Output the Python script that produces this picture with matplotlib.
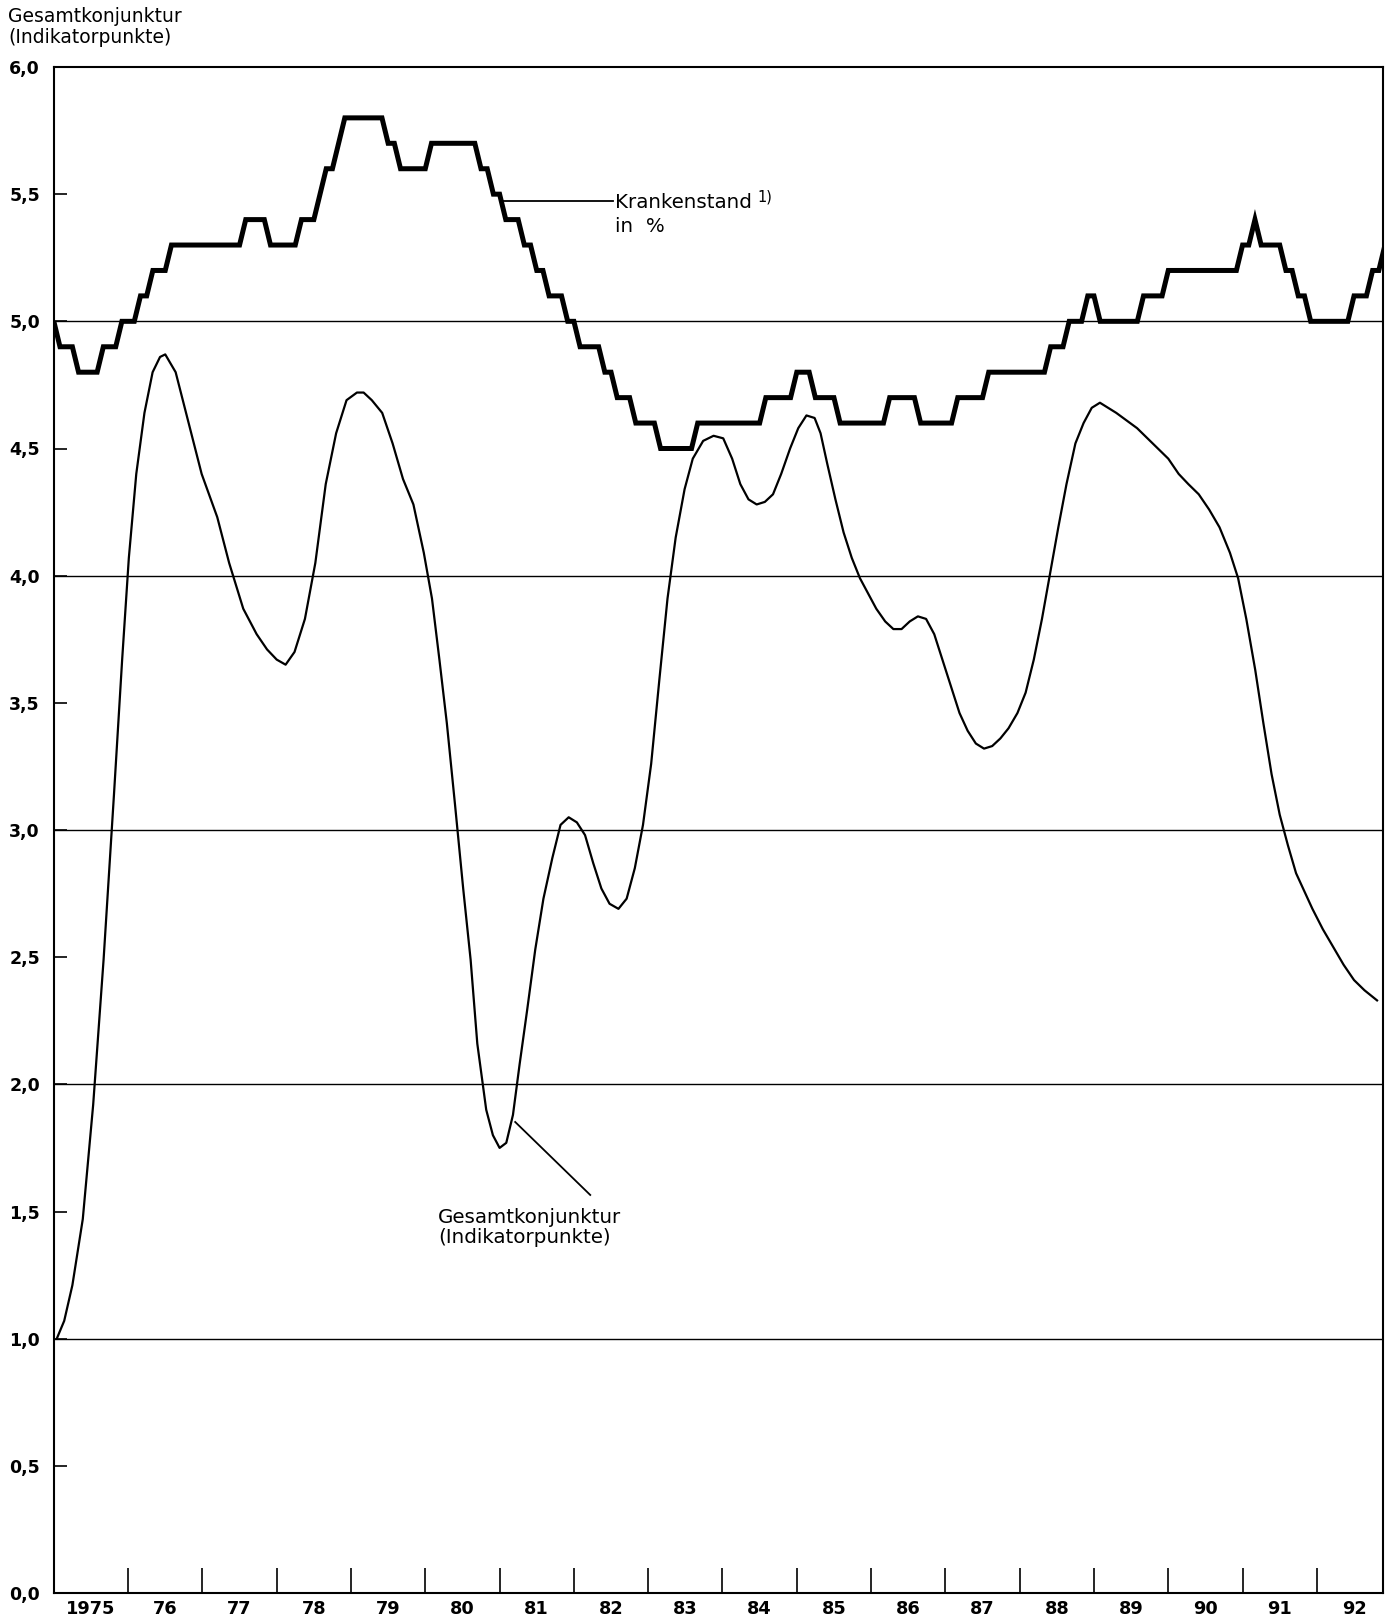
import numpy as np
import matplotlib
matplotlib.use("Agg")
import matplotlib.pyplot as plt

plt.rcParams['font.family'] = ['DejaVu Sans']

# ---------------- data ----------------
year_labels = ['1975', '76', '77', '78', '79', '80', '81', '82', '83', '84',
               '85', '86', '87', '88', '89', '90', '91', '92']
year_start = 1975
y_tick_values = [0.0, 0.5, 1.0, 1.5, 2.0, 2.5, 3.0, 3.5, 4.0, 4.5, 5.0, 5.5, 6.0]
grid_levels = [1.0, 2.0, 3.0, 4.0, 5.0]

# Krankenstand in % (monthly values)
kr_1975 = [5.0, 4.9, 4.9, 4.9, 4.8, 4.8, 4.8, 4.8, 4.9, 4.9, 4.9, 5.0]
kr_1976 = [5.0, 5.0, 5.1, 5.1, 5.2, 5.2, 5.2, 5.3, 5.3, 5.3, 5.3, 5.3]
kr_1977 = [5.3, 5.3, 5.3, 5.3, 5.3, 5.3, 5.3, 5.4, 5.4, 5.4, 5.4, 5.3]
kr_1978 = [5.3, 5.3, 5.3, 5.3, 5.4, 5.4, 5.4, 5.5, 5.6, 5.6, 5.7, 5.8]
kr_1979 = [5.8, 5.8, 5.8, 5.8, 5.8, 5.8, 5.7, 5.7, 5.6, 5.6, 5.6, 5.6]
kr_1980 = [5.6, 5.7, 5.7, 5.7, 5.7, 5.7, 5.7, 5.7, 5.7, 5.6, 5.6, 5.5]
kr_1981 = [5.5, 5.4, 5.4, 5.4, 5.3, 5.3, 5.2, 5.2, 5.1, 5.1, 5.1, 5.0]
kr_1982 = [5.0, 4.9, 4.9, 4.9, 4.9, 4.8, 4.8, 4.7, 4.7, 4.7, 4.6, 4.6]
kr_1983 = [4.6, 4.6, 4.5, 4.5, 4.5, 4.5, 4.5, 4.5, 4.6, 4.6, 4.6, 4.6]
kr_1984 = [4.6, 4.6, 4.6, 4.6, 4.6, 4.6, 4.6, 4.7, 4.7, 4.7, 4.7, 4.7]
kr_1985 = [4.8, 4.8, 4.8, 4.7, 4.7, 4.7, 4.7, 4.6, 4.6, 4.6, 4.6, 4.6]
kr_1986 = [4.6, 4.6, 4.6, 4.7, 4.7, 4.7, 4.7, 4.7, 4.6, 4.6, 4.6, 4.6]
kr_1987 = [4.6, 4.6, 4.7, 4.7, 4.7, 4.7, 4.7, 4.8, 4.8, 4.8, 4.8, 4.8]
kr_1988 = [4.8, 4.8, 4.8, 4.8, 4.8, 4.9, 4.9, 4.9, 5.0, 5.0, 5.0, 5.1]
kr_1989 = [5.1, 5.0, 5.0, 5.0, 5.0, 5.0, 5.0, 5.0, 5.1, 5.1, 5.1, 5.1]
kr_1990 = [5.2, 5.2, 5.2, 5.2, 5.2, 5.2, 5.2, 5.2, 5.2, 5.2, 5.2, 5.2]
kr_1991 = [5.3, 5.3, 5.4, 5.3, 5.3, 5.3, 5.3, 5.2, 5.2, 5.1, 5.1, 5.0]
kr_1992 = [5.0, 5.0, 5.0, 5.0, 5.0, 5.0, 5.1, 5.1, 5.1, 5.2, 5.2, 5.3]

krankenstand = (kr_1975 + kr_1976 + kr_1977 + kr_1978 + kr_1979 + kr_1980 +
                kr_1981 + kr_1982 + kr_1983 + kr_1984 + kr_1985 + kr_1986 +
                kr_1987 + kr_1988 + kr_1989 + kr_1990 + kr_1991 + kr_1992)

# Gesamtkonjunktur (Indikatorpunkte)
konj_time = [1975.04, 1975.14, 1975.25, 1975.39, 1975.53, 1975.67, 1975.81, 1975.92,
             1976.01, 1976.11, 1976.22, 1976.33, 1976.43, 1976.50, 1976.64, 1976.78,
             1976.99, 1977.20, 1977.36, 1977.55, 1977.73, 1977.87, 1978.00, 1978.12,
             1978.24, 1978.38, 1978.52, 1978.66, 1978.80, 1978.94, 1979.08, 1979.17,
             1979.28, 1979.42, 1979.56, 1979.70, 1979.84, 1979.98, 1980.09, 1980.19,
             1980.29, 1980.40, 1980.51, 1980.61, 1980.70, 1980.82, 1980.91, 1981.00,
             1981.09, 1981.18, 1981.27, 1981.37, 1981.48, 1981.59, 1981.71, 1981.82,
             1981.93, 1982.04, 1982.15, 1982.26, 1982.37, 1982.48, 1982.60, 1982.71,
             1982.82, 1982.93, 1983.04, 1983.15, 1983.26, 1983.37, 1983.49, 1983.60,
             1983.74, 1983.88, 1984.01, 1984.13, 1984.24, 1984.35, 1984.46, 1984.57,
             1984.68, 1984.79, 1984.91, 1985.02, 1985.13, 1985.24, 1985.32, 1985.41,
             1985.52, 1985.63, 1985.74, 1985.85, 1985.96, 1986.07, 1986.19, 1986.30,
             1986.41, 1986.52, 1986.63, 1986.74, 1986.85, 1986.96, 1987.08, 1987.19,
             1987.30, 1987.41, 1987.52, 1987.63, 1987.74, 1987.85, 1987.97, 1988.08,
             1988.19, 1988.30, 1988.41, 1988.52, 1988.63, 1988.75, 1988.86, 1988.97,
             1989.08, 1989.19, 1989.30, 1989.44, 1989.58, 1989.72, 1989.86, 1990.00,
             1990.14, 1990.27, 1990.41, 1990.55, 1990.69, 1990.83, 1990.94, 1991.05,
             1991.17, 1991.28, 1991.39, 1991.50, 1991.61, 1991.72, 1991.83, 1991.94,
             1992.08, 1992.22, 1992.36, 1992.50, 1992.64, 1992.81]
konj_value = [1.00, 1.07, 1.21, 1.47, 1.92, 2.49, 3.14, 3.67,
              4.07, 4.40, 4.64, 4.80, 4.86, 4.87, 4.80, 4.64,
              4.40, 4.23, 4.05, 3.87, 3.77, 3.71, 3.67, 3.65,
              3.70, 3.83, 4.05, 4.36, 4.56, 4.69, 4.72, 4.72,
              4.69, 4.64, 4.52, 4.38, 4.28, 4.09, 3.91, 3.67,
              3.42, 3.10, 2.77, 2.49, 2.16, 1.90, 1.80, 1.75,
              1.77, 1.88, 2.08, 2.29, 2.53, 2.73, 2.89, 3.02,
              3.05, 3.03, 2.98, 2.87, 2.77, 2.71, 2.69, 2.73,
              2.85, 3.02, 3.26, 3.59, 3.91, 4.15, 4.34, 4.46,
              4.53, 4.55, 4.54, 4.46, 4.36, 4.30, 4.28, 4.29,
              4.32, 4.40, 4.50, 4.58, 4.63, 4.62, 4.56, 4.44,
              4.30, 4.17, 4.07, 3.99, 3.93, 3.87, 3.82, 3.79,
              3.79, 3.82, 3.84, 3.83, 3.77, 3.67, 3.56, 3.46,
              3.39, 3.34, 3.32, 3.33, 3.36, 3.40, 3.46, 3.54,
              3.67, 3.83, 4.01, 4.19, 4.36, 4.52, 4.60, 4.66,
              4.68, 4.66, 4.64, 4.61, 4.58, 4.54, 4.50, 4.46,
              4.40, 4.36, 4.32, 4.26, 4.19, 4.09, 3.99, 3.83,
              3.63, 3.42, 3.22, 3.06, 2.94, 2.83, 2.76, 2.69,
              2.61, 2.54, 2.47, 2.41, 2.37, 2.33]

# ---------------- figure ----------------
W, H = 1395, 1620
fig = plt.figure(figsize=(W / 100, H / 100), dpi=100)
ax = fig.add_axes([53.8 / W, (H - 1593) / H, (1383 - 53.8) / W, (1593 - 67) / H])

x_end = 1992.89
ax.set_xlim(year_start, x_end)
ax.set_ylim(0, 6)

# gridlines at integer levels
ax.hlines(grid_levels, year_start, x_end, colors='black', lw=1.0, zorder=1)

# Krankenstand step-like line
kr_t = year_start + np.arange(len(krankenstand)) / 12.0
ax.plot(kr_t, krankenstand, color='black', lw=3.6, solid_joinstyle='miter',
        solid_capstyle='butt', zorder=3)

# Gesamtkonjunktur curve
ax.plot(konj_time, konj_value, color='black', lw=1.6, solid_joinstyle='round', zorder=3)

# spines
for s in ax.spines.values():
    s.set_linewidth(1.5)

# y ticks
ax.set_yticks(y_tick_values)
ax.set_yticklabels([f"{v:.1f}".replace('.', ',') for v in y_tick_values])
ax.tick_params(axis='y', direction='in', length=9, width=1.2, pad=10,
               labelsize=12.5, right=False)
for lbl in ax.get_yticklabels():
    lbl.set_fontweight('bold')

# x ticks: year boundaries as inner ticks, labels centred in each year
ax.set_xticks(np.arange(year_start + 1, year_start + len(year_labels)))
ax.set_xticklabels([])
ax.set_xticks(np.arange(len(year_labels)) + year_start + 0.5, minor=True)
ax.set_xticklabels(year_labels, minor=True)
ax.tick_params(axis='x', which='major', direction='in', length=18, width=1.2, top=False)
ax.tick_params(axis='x', which='minor', length=0, pad=5, labelsize=12.8)
for lbl in ax.get_xticklabels(minor=True):
    lbl.set_fontweight('bold')

# axis title top-left
fig.text(8 / W, 1 - 21.7 / H, 'Gesamtkonjunktur', fontsize=13.5, ha='left', va='baseline')
fig.text(8 / W, 1 - 43 / H, '(Indikatorpunkte)', fontsize=13.5, ha='left', va='baseline')

# annotation: Krankenstand
ax.plot([1981.05, 1982.52], [5.475, 5.475], color='black', lw=1.3, zorder=3)
ax.text(1982.56, 5.446, 'Krankenstand', fontsize=14.3, ha='left', va='baseline')
ax.text(1984.47, 5.47, '1)', fontsize=10.5, ha='left', va='baseline')
ax.text(1982.56, 5.353, 'in  %', fontsize=14.3, ha='left', va='baseline')

# annotation: Gesamtkonjunktur
ax.plot([1981.21, 1982.22], [1.852, 1.565], color='black', lw=1.3, zorder=3)
ax.text(1980.17, 1.456, 'Gesamtkonjunktur', fontsize=14.3, ha='left', va='baseline')
ax.text(1980.17, 1.376, '(Indikatorpunkte)', fontsize=14.3, ha='left', va='baseline')

fig.savefig('out.png', dpi=100)
